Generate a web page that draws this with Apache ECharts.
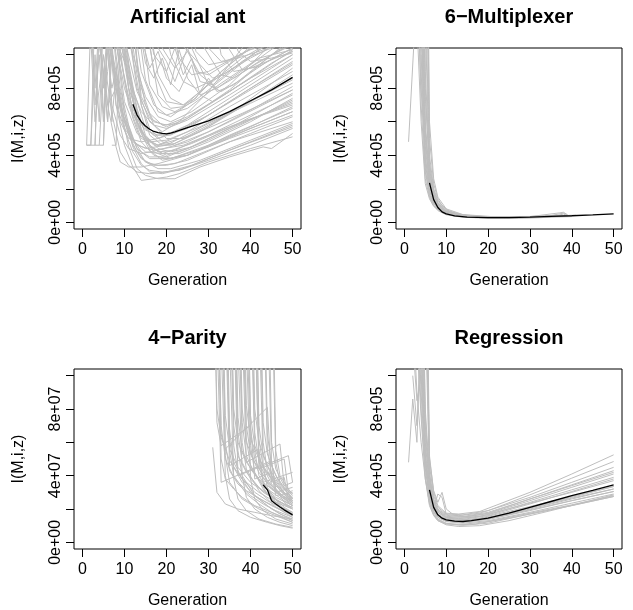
<!DOCTYPE html>
<html><head><meta charset="utf-8">
<script src="https://cdn.jsdelivr.net/npm/echarts@6/dist/echarts.min.js"></script>
<style>html,body{margin:0;padding:0;background:#fff}#c{width:633px;height:610px}</style>
</head><body><div id="c"></div>
<script>
// ---------------- data ----------------
const titles = ['Artificial ant', '6\u2212Multiplexer', '4\u2212Parity', 'Regression'];
const xTicks = [0, 10, 20, 30, 40, 50];
const xLabels = [0, 10, 20, 30, 40, 50];
const yTicksE5 = [0, 200000, 400000, 600000, 800000, 1000000];
const yLabelsE5 = [0, 400000, 800000];
const yTicksE7 = [0, 20000000, 40000000, 60000000, 80000000, 100000000];
const yLabelsE7 = [0, 40000000, 80000000];

// Artificial ant (values in 1e5)
const antRuns = [
 [[1,4.6],[2,4.6],[3,13],[9,13],[11,8],[12,6.5],[15,4.8],[18,4.2],[22,4.3],[30,5.2],[40,6.4],[50,7.6]],
 [[2,4.6],[3,4.6],[4,12],[10,11],[13,6],[16,4.5],[20,4.0],[25,4.4],[35,5.6],[50,7.2]],
 [[4,4.6],[5,4.6],[6,12],[11,9],[14,5.5],[17,4.2],[21,3.8],[30,4.6],[40,5.7],[50,6.9]],
 [[3,4.6],[4,12],[9,12],[13,5.8],[16,4.3],[19,3.7],[25,4.0],[35,5.2],[50,6.8]],
 [[7,4.6],[8,4.6],[9,11],[12,6.5],[15,5],[18,4.6],[25,5.4],[35,6.9],[50,9.0]],
 [[5,4.6],[6,11],[12,12],[14,7],[16,5.2],[19,4.6],[22,4.7],[30,5.7],[40,7.2],[50,8.6]],
 [[2,12],[6,11],[9,7],[11,5.2],[13,4.2],[15,3.6],[18,3.4],[22,3.5],[30,4.3],[40,5.3],[50,6.3]],
 [[3,13],[7,10],[10,6],[12,4.6],[14,3.8],[17,3.4],[20,3.4],[25,3.7],[35,4.8],[50,6.0]],
 [[4,14],[8,9],[10,6.5],[12,5],[14,4.2],[16,3.9],[20,3.9],[30,4.9],[40,6.1],[50,7.3]],
 [[5,13],[8,8],[10,5.5],[12,4.2],[14,3.4],[16,3.1],[19,3.0],[23,3.1],[30,3.7],[40,4.6],[50,5.6]],
 [[6,14],[9,8],[11,5.8],[13,4.4],[15,3.6],[18,3.2],[21,3.2],[28,3.7],[40,4.9],[50,5.9]],
 [[7,14],[10,8.5],[12,6.2],[14,4.8],[17,4.0],[20,3.8],[25,4.0],[35,5.1],[50,6.6]],
 [[8,14],[10,10],[12,7.2],[14,5.6],[16,4.6],[19,4.1],[23,4.1],[30,4.8],[40,6.0],[50,7.4]],
 [[9,14],[11,9.5],[13,6.8],[15,5.2],[18,4.4],[21,4.2],[26,4.5],[35,5.6],[50,7.7]],
 [[10,14],[12,9.8],[14,7.0],[16,5.6],[19,4.8],[22,4.6],[30,5.4],[40,6.7],[50,8.1]],
 [[11,14],[13,9.5],[15,7],[17,5.8],[20,5.0],[24,5.0],[30,5.8],[40,7.2],[50,8.8]],
 [[6,12],[8,7],[10,4.6],[12,3.3],[14,2.5],[17,2.6],[20,2.7],[23,2.9],[30,3.6],[40,4.4],[50,5.1]],
 [[7,12],[9,7],[11,4.5],[13,3.2],[15,2.8],[18,2.6],[22,2.6],[28,3.3],[35,3.9],[43,4.5],[45,4.4],[50,5.3]],
 [[5,10],[7,6.5],[9,4.2],[11,3.4],[13,3.0],[16,2.9],[20,3.0],[26,3.4],[35,4.3],[50,5.7]],
 [[4,11],[6,7],[8,4.5],[9,3.6],[11,3.3],[14,3.3],[18,3.5],[25,4.0],[35,5.0],[50,6.4]],
 [[8,11],[10,6.5],[12,4.5],[14,3.5],[16,3.0],[19,2.9],[24,3.2],[32,4.0],[42,5.0],[50,5.8]],
 [[3,14],[7,12],[10,8],[12,6.5],[15,5.5],[18,5.2],[22,5.4],[30,6.4],[40,8.0],[50,9.5]],
 [[6,14],[9,11],[11,8.5],[14,6.6],[17,5.8],[20,5.6],[25,6.1],[35,7.6],[45,9.2],[50,10.0]],
 [[8,14],[10,11],[13,7.8],[16,6.2],[20,5.7],[25,6.2],[35,7.9],[47,10.4],[48,10.7]],
 [[5,14],[8,11],[11,7.5],[14,5.4],[17,4.6],[21,4.6],[28,5.4],[38,7.0],[50,9.2]],
 [[9,14],[12,10],[15,7.5],[18,6.3],[21,6.0],[26,6.6],[35,8.2],[44,10.4],[45,10.8]],
 [[12,14],[15,9.5],[17,8.6],[19,9.8],[21,8.2],[23,10.3],[25,8.6],[28,7.6],[32,8.0],[40,9.4],[46,10.5]],
 [[14,14],[17,10],[20,9],[22,10.4],[24,8.8],[26,9.8],[28,8.4],[31,8.2],[38,9.6],[44,10.6]],
 [[13,12],[16,9.2],[18,10.2],[20,8.6],[23,7.8],[26,9.4],[28,7.6],[31,7.2],[40,8.6],[50,10.0]],
 [[16,14],[18,10.4],[20,9.6],[22,8.4],[25,10.4],[27,9.0],[30,8.8],[35,9.6],[41,10.5]],
 [[15,13],[18,8.8],[21,7.4],[24,7.0],[27,7.4],[30,8.6],[32,7.8],[36,8.2],[45,10.0],[48,10.5]],
 [[10,13],[13,8],[16,6],[19,5.4],[23,6.0],[30,7.8],[38,10.4],[39,10.7]],
 [[12,14],[15,8.5],[18,6.6],[21,6.3],[26,7.2],[33,9.0],[40,10.4],[41,10.8]],
 [[14,14],[17,9],[20,7.2],[24,7.0],[30,8.2],[38,9.8],[43,10.5]],
 [[11,14],[14,9],[17,7],[20,6.4],[25,6.8],[33,8.3],[42,9.8],[50,10.3]],
 [[18,14],[21,10],[24,8.4],[27,8.0],[32,8.6],[40,9.8],[46,10.6]],
 [[20,13],[23,9.8],[26,8.8],[30,9.0],[36,9.8],[42,10.6]],
 [[24,14],[27,10.2],[30,9.4],[34,9.6],[40,10.3],[44,10.6]],
 [[28,12],[30,10.4],[33,9.6],[37,9.8],[42,10.2],[50,10.9]],
 [[30,14],[33,10],[36,9.0],[40,9.2],[46,9.8],[50,10.2]],
 [[34,14],[37,10.2],[40,9.6],[45,9.8],[50,10.1]],
 [[1,4.6],[2,12],[3,8],[4,12],[5,6.5],[6,9],[8,13],[12,8],[15,5.6],[18,5.0],[25,5.6],[35,7.2],[50,9.6]],
 [[2,13],[3,7],[4,10],[5,6],[6,11],[7,7],[9,5.2],[11,4.4],[14,4.1],[18,4.3],[25,4.8],[35,6.0],[50,7.9]],
 [[4,13],[5,8],[6,12],[7,6],[8,9],[10,6],[12,4.8],[15,4.4],[20,4.6],[30,5.9],[40,7.1],[50,8.3]],
 [[3,12],[5,9],[6,6],[7,10],[9,6],[11,5],[14,4.8],[18,5.0],[25,5.8],[35,7.4],[50,9.8]],
 [[17,14],[19,10.4],[22,9.2],[25,10.2],[28,8.8],[32,8.0],[36,8.6],[42,9.6],[50,10.6]],
 [[20,14],[24,10.5],[28,9.4],[31,8.6],[34,8.9],[40,9.9],[47,10.6]],
 [[22,14],[26,10.4],[30,8.2],[33,7.8],[37,8.4],[44,9.6],[50,10.4]],
 [[26,14],[29,10.4],[33,8.8],[36,8.6],[41,9.4],[50,10.7]],
 [[32,14],[35,10.3],[38,9.1],[42,9.3],[50,10.4]],
 [[15,12],[18,7.6],[21,6.8],[24,6.9],[28,7.8],[34,9.2],[40,10.5]],
 [[13,14],[16,8.2],[19,6.9],[22,6.6],[27,7.3],[35,8.9],[43,10.5]],
 [[12,12],[14,7.5],[17,6.0],[20,5.8],[25,6.3],[35,7.8],[45,9.5],[50,10.2]],
 [[10,14],[13,8.8],[16,6.5],[19,5.8],[23,5.9],[30,7.0],[40,8.6],[50,10.3]],
 [[9,12],[11,8],[14,5.9],[17,5.2],[21,5.2],[28,6.1],[38,7.6],[50,9.4]],
 [[7,13],[10,7.2],[13,5.3],[16,4.8],[20,4.9],[28,5.7],[40,7.2],[50,8.5]],
 [[6,12],[9,6.8],[12,4.9],[15,4.2],[19,4.1],[26,4.7],[38,6.0],[50,7.0]],
 [[1,4.6],[2,4.6],[3,10],[4,6],[5,12],[7,8],[9,10],[11,7],[14,5.0],[18,4.6],[26,5.2],[38,6.5],[50,7.9]],
 [[3,4.6],[4,4.6],[5,9],[6,6],[7,11],[8,7],[10,5.6],[13,4.6],[17,4.3],[24,4.6],[35,5.7],[50,7.1]],
 [[2,11],[3,6],[4,8],[5,10],[6,7],[8,8],[10,6.2],[13,4.4],[16,3.8],[21,3.8],[30,4.5],[40,5.6],[50,6.6]]
];
const antMean = [[12,7.05],[13,6.4],[14,6.0],[15,5.75],[16,5.55],[17,5.42],[18,5.35],[19,5.3],[20,5.28],[21,5.32],[22,5.4],[25,5.65],[30,6.05],[35,6.6],[40,7.25],[45,7.9],[50,8.65]];

// 6-Multiplexer (values in 1e5)
const muxRuns = [
 [[1,4.8],[3,14],[4,12],[5,3.5],[6,1.9],[7,1.2],[8,0.85],[10,0.55],[13,0.38],[18,0.3],[25,0.28],[32,0.32],[38,0.38]],
 [[3,20],[4,9],[5,3.0],[6,1.7],[7,1.1],[8,0.8],[10,0.52],[13,0.36],[18,0.29],[25,0.28],[30,0.3],[36,0.36]],
 [[3,25],[4,12],[5,4.5],[6,2.2],[7,1.3],[8,0.9],[10,0.58],[14,0.38],[20,0.3],[28,0.3],[35,0.35],[40,0.4]],
 [[4,18],[5,6],[6,2.6],[7,1.5],[8,1.0],[10,0.6],[14,0.4],[20,0.3],[30,0.31],[39,0.4]],
 [[4,14],[5,5],[6,2.2],[7,1.3],[9,0.7],[12,0.45],[17,0.32],[24,0.28],[32,0.33],[37,0.38]],
 [[4,22],[5,7.5],[6,3.2],[7,1.7],[8,1.1],[10,0.65],[13,0.45],[18,0.34],[26,0.31],[34,0.36],[41,0.42]],
 [[3,16],[4,7],[5,2.6],[6,1.5],[7,1.0],[9,0.6],[12,0.4],[16,0.3],[22,0.25],[30,0.27],[35,0.3]],
 [[4,30],[5,9],[6,3.5],[7,1.9],[8,1.2],[10,0.7],[14,0.42],[20,0.32],[30,0.34],[37,0.56],[38,0.6],[39,0.45]],
 [[5,20],[6,4],[7,2.0],[8,1.3],[10,0.75],[13,0.48],[18,0.35],[25,0.3],[33,0.35],[40,0.42]],
 [[5,14],[6,3.5],[7,1.8],[8,1.15],[10,0.68],[14,0.42],[20,0.3],[28,0.3],[36,0.37]],
 [[4,12],[5,4],[6,1.9],[7,1.15],[8,0.82],[10,0.5],[15,0.33],[22,0.26],[30,0.28],[38,0.36]],
 [[3,30],[4,15],[5,5.5],[6,2.4],[7,1.4],[8,0.95],[11,0.5],[16,0.33],[24,0.27],[31,0.3],[36,0.34]],
 [[4,26],[5,8],[6,2.9],[7,1.6],[8,1.05],[10,0.62],[13,0.42],[19,0.3],[27,0.3],[35,0.4],[38,0.55],[39,0.42]],
 [[5,25],[6,5],[7,2.3],[8,1.4],[9,1.0],[11,0.6],[15,0.4],[21,0.32],[29,0.33],[38,0.4]],
 [[4,10],[5,3.2],[6,1.6],[7,1.0],[8,0.7],[10,0.45],[14,0.3],[20,0.24],[27,0.25],[33,0.28]],
 [[3,12],[4,6],[5,2.3],[6,1.4],[7,0.95],[9,0.58],[12,0.38],[17,0.28],[25,0.26],[34,0.3],[40,0.34]],
 [[5,12],[6,3],[7,1.6],[8,1.05],[10,0.62],[13,0.42],[20,0.31],[28,0.31],[37,0.4]],
 [[4,16],[5,5.5],[6,2.5],[7,1.5],[9,0.75],[12,0.48],[17,0.35],[23,0.3],[31,0.32],[39,0.38]],
 [[5,30],[6,6],[7,2.6],[8,1.5],[10,0.8],[14,0.46],[21,0.34],[30,0.35],[38,0.42]],
 [[3,14],[4,8],[5,3.8],[6,2.0],[7,1.25],[8,0.88],[10,0.56],[14,0.37],[21,0.28],[29,0.29],[36,0.35],[38,0.5],[39,0.38]]
];
const muxMean = [[6,2.35],[7,1.35],[8,0.88],[9,0.62],[10,0.5],[12,0.38],[15,0.31],[20,0.28],[25,0.28],[30,0.31],[35,0.35],[40,0.39],[45,0.44],[50,0.5]];

// 4-Parity (values in 1e7)
const parityRuns = [
 [[31,5.7],[32,3.0],[34,2.3],[37,2.0],[41,1.8],[45,1.6],[50,1.4]],
 [[31,20],[32,7.2],[33,5.8],[40,7.0],[41,3.8],[45,4.2],[46,2.8],[50,3.0]],
 [[32,20],[33,6.5],[34,5.6],[44,8.1],[45,3.6],[48,3.9],[49,2.6],[50,2.7]],
 [[32,18],[33,5.0],[34,3.8],[36,3.2],[38,2.7],[41,2.2],[44,1.9],[47,1.6],[50,1.3]],
 [[33,20],[34,6.0],[35,4.3],[37,3.5],[40,2.8],[43,2.3],[46,1.9],[50,1.5]],
 [[33,16],[34,5.2],[35,3.6],[38,2.6],[42,2.0],[46,1.6],[50,1.2]],
 [[34,20],[35,6.8],[36,4.8],[38,3.8],[41,3.0],[44,2.5],[47,2.1],[50,1.8]],
 [[34,17],[35,5.5],[36,4.0],[39,2.9],[42,2.3],[45,1.8],[50,1.2]],
 [[35,20],[36,7.0],[37,5.2],[39,4.2],[42,3.3],[45,2.7],[48,2.3],[50,2.1]],
 [[35,16],[36,5.8],[37,4.2],[40,3.0],[44,2.2],[47,1.7],[50,1.4]],
 [[36,20],[37,7.5],[38,5.5],[40,4.4],[43,3.4],[46,2.7],[50,2.2]],
 [[36,15],[37,5.5],[38,4.0],[41,2.8],[45,2.0],[50,1.3]],
 [[37,20],[38,8.0],[39,6.0],[41,4.8],[44,3.7],[47,2.9],[50,2.4]],
 [[37,16],[38,6.0],[39,4.4],[42,3.1],[46,2.1],[50,1.5]],
 [[38,20],[39,8.2],[40,6.2],[42,5.0],[45,3.8],[48,3.0],[50,2.6]],
 [[38,15],[39,6.2],[40,4.6],[43,3.2],[47,2.1],[50,1.6]],
 [[39,20],[40,7.6],[41,5.8],[43,4.5],[46,3.4],[50,2.5]],
 [[39,14],[40,5.8],[41,4.2],[44,2.9],[47,2.1],[50,1.7]],
 [[40,20],[41,8.0],[42,6.0],[44,4.6],[47,3.4],[50,2.7]],
 [[40,15],[41,5.5],[42,4.0],[45,2.8],[48,2.1],[50,1.8]],
 [[41,20],[42,7.0],[43,5.2],[45,4.0],[48,3.0],[50,2.5]],
 [[41,14],[42,5.0],[43,3.6],[46,2.4],[50,1.6]],
 [[42,20],[43,7.2],[44,5.3],[46,4.0],[48,3.3],[50,2.8]],
 [[42,14],[43,4.6],[44,3.3],[47,2.2],[50,1.7]],
 [[43,20],[44,6.5],[45,4.6],[47,3.5],[50,2.6]],
 [[44,20],[45,6.0],[46,4.4],[48,3.4],[50,2.9]],
 [[45,20],[46,5.5],[47,4.0],[49,3.2],[50,2.9]],
 [[44,15],[45,4.8],[46,3.2],[48,2.4],[50,2.0]],
 [[33,12],[34,4.0],[35,2.6],[37,1.9],[40,1.5],[44,1.2],[47,1.0],[50,0.85]],
 [[35,12],[36,3.8],[37,2.6],[39,1.9],[42,1.4],[46,1.1],[50,0.9]],
 [[37,12],[38,4.0],[39,2.7],[41,2.0],[44,1.5],[47,1.2],[50,1.0]],
 [[39,12],[40,3.8],[41,2.6],[43,1.9],[46,1.4],[50,1.1]],
 [[32,13],[33,3.6],[45,4.9],[46,3.0],[50,3.3]],
 [[34,14],[35,4.6],[42,5.6],[43,3.6],[50,4.2]],
 [[36,14],[37,4.0],[49,5.2],[50,3.6]],
 [[31,20],[32,8],[33,6.3],[35,4.9],[38,3.8],[42,3.0],[46,2.4],[50,2.0]],
 [[32,16],[33,7.0],[34,5.0],[36,3.9],[39,3.1],[43,2.5],[47,2.0],[50,1.7]],
 [[33,18],[34,7.6],[35,5.6],[37,4.5],[40,3.6],[44,2.9],[48,2.3],[50,2.1]],
 [[34,15],[35,6.2],[36,4.5],[38,3.6],[41,2.8],[45,2.2],[50,1.6]],
 [[35,18],[36,8.0],[37,6.0],[39,4.8],[42,3.8],[46,3.0],[50,2.5]],
 [[36,17],[37,6.6],[38,4.8],[40,3.8],[43,3.0],[47,2.4],[50,2.0]],
 [[37,18],[38,7.2],[39,5.2],[41,4.1],[44,3.2],[48,2.5],[50,2.2]],
 [[38,17],[39,7.0],[40,5.3],[42,4.2],[45,3.2],[50,2.2]],
 [[39,18],[40,6.8],[41,5.0],[43,3.9],[46,3.0],[50,2.3]],
 [[40,17],[41,6.6],[42,4.8],[44,3.7],[47,2.8],[50,2.3]],
 [[41,18],[42,6.2],[43,4.5],[45,3.5],[48,2.7],[50,2.4]],
 [[42,17],[43,6.0],[44,4.3],[46,3.4],[50,2.4]],
 [[43,16],[44,5.6],[45,4.0],[47,3.1],[50,2.4]],
 [[45,16],[46,4.8],[47,3.6],[49,2.9],[50,2.6]],
 [[38,13],[39,4.8],[47,5.9],[48,3.4],[50,3.6]],
 [[41,14],[42,4.4],[48,5.0],[49,3.0],[50,3.1]]
];
const parityMean = [[43,3.45],[44,3.15],[45,2.5],[46,2.3],[47,2.12],[48,1.95],[49,1.8],[50,1.65]];

// Regression (values in 1e5)
const regRuns = [
 [[1,4.8],[2,8.6],[3,6.0],[4,14],[5,5],[6,2.6],[7,1.8],[8,1.4],[10,1.15],[13,1.05],[17,1.1],[25,1.45],[35,1.95],[50,2.75]],
 [[2,14],[3,9],[4,6],[5,3.8],[6,2.4],[7,1.7],[8,1.35],[10,1.12],[14,1.08],[20,1.25],[30,1.75],[40,2.25],[50,2.8]],
 [[3,16],[4,9],[5,4.4],[6,2.6],[7,1.85],[8,1.5],[10,1.25],[14,1.2],[20,1.4],[30,1.95],[40,2.5],[50,3.05]],
 [[3,20],[4,11],[5,5.2],[6,3.0],[7,2.1],[8,1.7],[10,1.4],[13,1.32],[18,1.45],[30,2.15],[40,2.75],[50,3.35]],
 [[4,14],[5,6.0],[6,3.3],[7,2.3],[8,1.8],[10,1.5],[13,1.42],[18,1.55],[30,2.35],[40,3.0],[50,3.7]],
 [[4,18],[5,7.0],[6,3.6],[7,2.4],[8,1.9],[10,1.55],[14,1.5],[20,1.72],[30,2.5],[40,3.3],[50,4.1]],
 [[4,22],[5,8.0],[6,4.0],[7,2.6],[8,2.0],[10,1.65],[13,1.6],[18,1.75],[30,2.7],[40,3.6],[50,4.5]],
 [[5,20],[6,4.6],[7,2.8],[8,2.1],[10,1.7],[14,1.65],[20,1.9],[30,2.85],[40,3.85],[50,4.85]],
 [[5,16],[6,4.2],[7,2.5],[8,1.9],[10,1.5],[14,1.45],[20,1.65],[30,2.4],[40,3.15],[50,3.9]],
 [[3,12],[4,7.5],[5,3.8],[6,2.2],[7,1.6],[8,1.3],[10,1.1],[14,1.02],[20,1.15],[30,1.7],[40,2.2],[50,2.75]],
 [[4,12],[5,5.0],[6,2.8],[7,2.0],[8,2.9],[9,2.7],[10,1.7],[12,1.35],[16,1.35],[22,1.6],[30,2.05],[40,2.65],[50,3.2]],
 [[2,10],[3,7.0],[4,12],[5,4.8],[6,2.7],[7,1.9],[8,1.5],[10,1.25],[14,1.15],[20,1.3],[30,1.8],[40,2.35],[50,2.9]],
 [[5,24],[6,5.2],[7,3.0],[8,2.2],[10,1.75],[13,1.7],[18,1.85],[30,3.0],[40,4.1],[50,5.25]],
 [[3,14],[4,8],[5,4.0],[6,2.3],[7,1.65],[8,1.3],[10,1.05],[13,0.95],[18,1.0],[25,1.3],[35,1.9],[50,2.85]],
 [[4,16],[5,6.5],[6,3.4],[7,2.2],[8,1.7],[9,1.5],[11,1.3],[15,1.25],[20,1.38],[30,1.9],[40,2.5],[50,3.05]],
 [[2,12],[3,8.5],[4,10],[5,5.5],[6,3.1],[7,2.1],[8,1.6],[10,1.3],[14,1.22],[20,1.42],[30,2.0],[40,2.6],[50,3.2]],
 [[5,18],[6,5.0],[7,3.1],[8,2.4],[9,3.0],[10,2.0],[12,1.6],[15,1.55],[20,1.75],[30,2.6],[40,3.45],[50,4.3]],
 [[4,20],[5,7.5],[6,3.8],[7,2.5],[8,1.95],[10,1.6],[14,1.55],[20,1.8],[30,2.6],[40,3.4],[50,4.2]],
 [[3,18],[4,10],[5,4.8],[6,2.9],[7,2.0],[8,1.6],[10,1.35],[14,1.28],[20,1.48],[30,2.1],[40,2.7],[50,3.35]],
 [[5,14],[6,3.8],[7,2.3],[8,1.8],[10,1.45],[14,1.38],[20,1.6],[30,2.3],[40,3.05],[50,3.8]]
];
const regMean = [[6,3.15],[7,2.1],[8,1.65],[9,1.45],[10,1.35],[12,1.27],[14,1.25],[16,1.3],[20,1.45],[25,1.75],[30,2.1],[35,2.45],[40,2.8],[45,3.12],[50,3.45]];

// ---------------- chart ----------------
const FONT = '"Liberation Sans", Arial, Helvetica, sans-serif';
function sci(v) {
  if (v === 0) return '0e+00';
  const e = Math.floor(Math.log10(Math.abs(v)) + 1e-9);
  const m = Math.round(v / Math.pow(10, e) * 100) / 100;
  return m + 'e' + (e < 0 ? '-' : '+') + String(Math.abs(e)).padStart(2, '0');
}
const panels = [
  {runs: antRuns, mean: antMean, unit: 1e5, yTicks: yTicksE5, yLabels: yLabelsE5, yTop: 1e6,
   grid: {left: 74, top: 48, width: 227, height: 181}, titleTop: 7},
  {runs: muxRuns, mean: muxMean, unit: 1e5, yTicks: yTicksE5, yLabels: yLabelsE5, yTop: 1e6,
   grid: {left: 396, top: 48, width: 226, height: 181}, titleTop: 7},
  {runs: parityRuns, mean: parityMean, unit: 1e7, yTicks: yTicksE7, yLabels: yLabelsE7, yTop: 1e8,
   grid: {left: 74, top: 369, width: 227, height: 181}, titleTop: 328},
  {runs: regRuns, mean: regMean, unit: 1e5, yTicks: yTicksE5, yLabels: yLabelsE5, yTop: 1e6,
   grid: {left: 396, top: 369, width: 226, height: 181}, titleTop: 328}
];
const option = {
  animation: false,
  backgroundColor: '#fff',
  textStyle: {fontFamily: FONT},
  title: [], grid: [], xAxis: [], yAxis: [], series: []
};
panels.forEach((p, i) => {
  option.title.push({
    text: titles[i], left: p.grid.left + p.grid.width / 2, top: p.titleTop, textAlign: 'center', padding: 0,
    textStyle: {fontFamily: FONT, fontSize: 20, fontWeight: 'bold', color: '#000'}
  });
  option.grid.push(Object.assign({show: true, borderColor: '#000', borderWidth: 1, backgroundColor: 'transparent', containLabel: false}, p.grid));
  option.xAxis.push({
    type: 'value', gridIndex: i, min: -2, max: 52,
    name: 'Generation', nameLocation: 'middle', nameGap: 44,
    nameTextStyle: {fontFamily: FONT, fontSize: 16, color: '#000'},
    axisLine: {show: false, onZero: false},
    axisTick: {show: true, inside: false, length: 8, customValues: xTicks, lineStyle: {color: '#000', width: 1}},
    axisLabel: {show: true, margin: 13, customValues: xLabels, fontFamily: FONT, fontSize: 16, color: '#000'},
    splitLine: {show: false}
  });
  option.yAxis.push({
    type: 'value', gridIndex: i, min: -0.04 * p.yTop, max: 1.04 * p.yTop,
    name: 'I(M,i,z)', nameLocation: 'middle', nameGap: 47, nameRotate: 90,
    nameTextStyle: {fontFamily: FONT, fontSize: 16, color: '#000'},
    axisLine: {show: false, onZero: false},
    axisTick: {show: true, inside: false, length: 8, customValues: p.yTicks, lineStyle: {color: '#000', width: 1}},
    axisLabel: {show: true, margin: 10, rotate: 90, customValues: p.yLabels, formatter: sci, fontFamily: FONT, fontSize: 16, color: '#000'},
    splitLine: {show: false}
  });
  p.runs.forEach(run => {
    option.series.push({
      type: 'line', xAxisIndex: i, yAxisIndex: i, silent: true, showSymbol: false, symbol: 'none',
      data: run.map(pt => [pt[0], pt[1] * p.unit]),
      lineStyle: {color: '#bebebe', width: 1}, clip: true, z: 2
    });
  });
  option.series.push({
    type: 'line', xAxisIndex: i, yAxisIndex: i, silent: true, showSymbol: false, symbol: 'none',
    data: p.mean.map(pt => [pt[0], pt[1] * p.unit]),
    lineStyle: {color: '#000', width: 1.3}, clip: true, z: 3
  });
});
const chart = echarts.init(document.getElementById('c'), null, {renderer: 'canvas'});
chart.setOption(option);
</script>
</body></html>
